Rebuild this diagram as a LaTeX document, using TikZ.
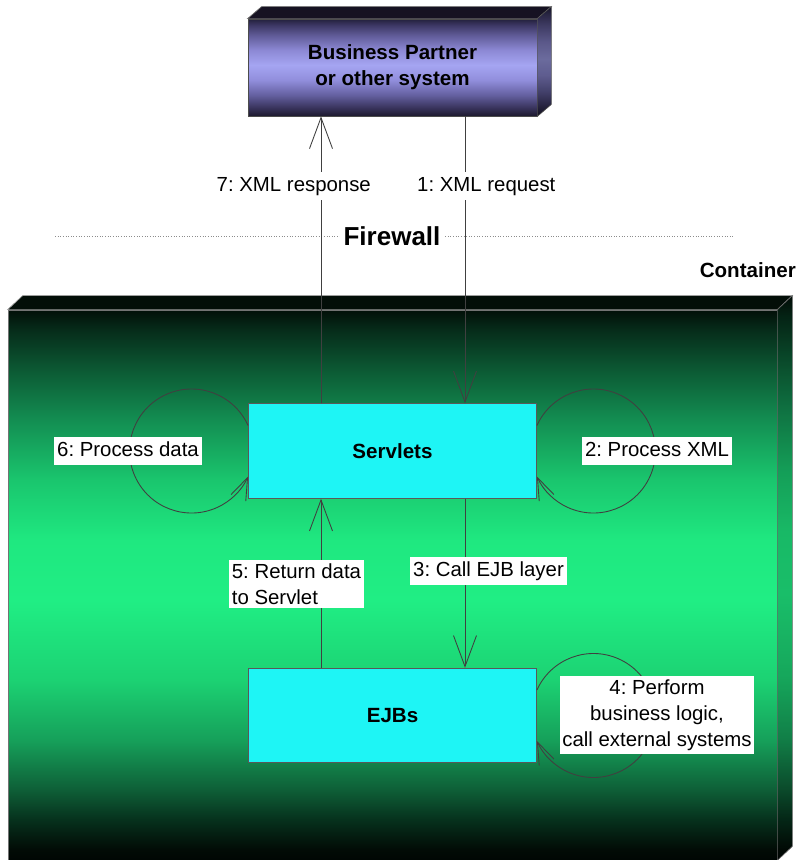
\documentclass[tikz,border=0pt]{standalone}
\usepackage{fontspec}
\setmainfont{Liberation Sans}
\usetikzlibrary{arrows.meta}
\frenchspacing

\definecolor{servletcyan}{RGB}{30,245,245}
\definecolor{ctrtop}{RGB}{3,14,8}
\definecolor{partnertop}{RGB}{22,18,34}

\definecolor{ctrA}{RGB}{0,6,3}
\definecolor{ctrB}{RGB}{2,12,6}
\definecolor{ctrC}{RGB}{6,48,28}
\definecolor{ctrD}{RGB}{14,95,55}
\definecolor{ctrE}{RGB}{22,160,90}
\definecolor{ctrF}{RGB}{28,210,115}
\definecolor{ctrG}{RGB}{32,238,132}
\definecolor{ctrH}{RGB}{31,232,128}
\definecolor{ctrI}{RGB}{26,198,110}
\definecolor{ctrJ}{RGB}{19,142,82}
\definecolor{ctrK}{RGB}{12,90,52}
\definecolor{ctrL}{RGB}{6,44,26}
\definecolor{ctrM}{RGB}{2,15,8}

\definecolor{ptA}{RGB}{28,25,45}
\definecolor{ptB}{RGB}{55,50,90}
\definecolor{ptC}{RGB}{100,96,160}
\definecolor{ptD}{RGB}{145,142,220}
\definecolor{ptE}{RGB}{165,165,242}
\definecolor{ptF}{RGB}{140,136,212}
\definecolor{ptG}{RGB}{95,90,150}
\definecolor{ptH}{RGB}{60,55,100}
\definecolor{ptI}{RGB}{35,32,60}

\pgfdeclareverticalshading{containershade}{100bp}{%
  color(0bp)=(ctrA); color(25bp)=(ctrA); color(26bp)=(ctrB);
  color(28.6bp)=(ctrC); color(31.4bp)=(ctrD); color(35.9bp)=(ctrE);
  color(41.4bp)=(ctrF); color(48.6bp)=(ctrG); color(54.1bp)=(ctrH);
  color(59.5bp)=(ctrI); color(65bp)=(ctrJ); color(69.5bp)=(ctrK);
  color(73.2bp)=(ctrL); color(75bp)=(ctrM); color(100bp)=(ctrM)}

\pgfdeclareverticalshading{partnershade}{100bp}{%
  color(0bp)=(ptA); color(25bp)=(ptA); color(29.1bp)=(ptB);
  color(35.8bp)=(ptC); color(43.6bp)=(ptD); color(51.3bp)=(ptE);
  color(59bp)=(ptF); color(66.8bp)=(ptG); color(71.9bp)=(ptH);
  color(75bp)=(ptI); color(100bp)=(ptI)}

\begin{document}
\begin{tikzpicture}[
  boldtext/.style={font=\bfseries\fontsize{11.7pt}{14.6pt}\selectfont},
  procbox/.style={boldtext, draw=black!65, line width=0.5pt, fill=servletcyan,
    minimum width=5.76cm, minimum height=1.89cm, inner sep=0pt},
  steplabel/.style={fill=white, inner xsep=1.6pt, inner ysep=1.9pt,
    font=\fontsize{11.6pt}{14.8pt}\selectfont},
  oneline/.style={text height=9.1pt, text depth=2.6pt},
  flow/.style={draw=black!75, line width=0.5pt, -{Straight Barb[length=0.62cm,width=0.46cm]}},
  loopflow/.style={flow, -{Straight Barb[length=0.44cm,width=0.32cm]}},
  fwline/.style={draw=black!45, line width=0.5pt, densely dotted}
]
  \useasboundingbox (0,0) rectangle (16.08,17.2);

  \node[shade, shading=containershade, draw=black!55, line width=0.4pt,
        minimum width=15.38cm, minimum height=11.0cm, inner sep=0pt] (container) at (7.85,5.5) {};
  \fill[draw=black!40, line width=0.4pt, fill=ctrtop] (container.north west) -- ++(0.30,0.28)
    -- ([shift={(0.30,0.28)}]container.north east) -- (container.north east) -- cycle;
  \path[shade, shading=containershade, postaction={fill=black, fill opacity=0.2},
        draw=black!55, line width=0.4pt] (container.north east) -- ++(0.30,0.28)
    -- ([shift={(0.30,0.28)}]container.south east) -- (container.south east) -- cycle;
  \node[boldtext, anchor=east] (ctrlabel) at (16.04,11.8) {Container};

  \node[boldtext, shade, shading=partnershade, draw=black!70, line width=0.4pt, align=center,
        minimum width=5.78cm, minimum height=1.94cm, inner sep=0pt] (partner) at (7.85,15.85)
        {Business Partner\\or other system};
  \fill[draw=black!60, line width=0.4pt, fill=partnertop] (partner.north west) -- ++(0.28,0.24)
    -- ([shift={(0.28,0.24)}]partner.north east) -- (partner.north east) -- cycle;
  \path[shade, shading=partnershade, postaction={fill=black, fill opacity=0.35},
        draw=black!60, line width=0.4pt] (partner.north east) -- ++(0.28,0.24)
    -- ([shift={(0.28,0.24)}]partner.south east) -- (partner.south east) -- cycle;

  \coordinate (fwwest) at (1.10,12.48);
  \coordinate (fweast) at (14.70,12.48);
  \draw[fwline] (fwwest) -- (fweast);
  \node[fill=white, inner sep=2pt, font=\bfseries\fontsize{14.8pt}{17pt}\selectfont] (firewall)
    at (7.84,12.48) {Firewall};

  \node[procbox] (servlets) at (7.85,8.18) {Servlets};
  \node[procbox] (ejbs) at (7.85,2.89) {EJBs};

  \foreach \src/\dst/\dx in {partner.south/servlets.north/1.45, servlets.north/partner.south/-1.43,
                             servlets.south/ejbs.north/1.45, ejbs.north/servlets.south/-1.43} {
    \draw[flow] ([xshift=\dx cm]\src) -- ([xshift=\dx cm]\dst);
  }

  \draw[loopflow] ([yshift=0.51cm]servlets.west) arc[start angle=24.3, end angle=335.7, radius=1.24cm];
  \draw[loopflow] ([yshift=0.51cm]servlets.east) arc[start angle=155.7, end angle=-155.7, radius=1.24cm];
  \draw[loopflow] ([yshift=0.51cm]ejbs.east) arc[start angle=155.7, end angle=-155.7, radius=1.24cm];

  \node[steplabel, oneline, anchor=east] (lbresp) at (7.48,13.48) {7: XML response};
  \node[steplabel, oneline, anchor=west] (lbreq) at (8.28,13.48) {1: XML request};
  \node[steplabel, oneline] (lbdata) at (2.56,8.18) {6: Process data};
  \node[steplabel, oneline] (lbxml) at (13.14,8.18) {2: Process XML};
  \node[steplabel, align=left] (lbreturn) at (5.93,5.52) {5: Return data\\to Servlet};
  \node[steplabel, oneline] (lbcall) at (9.77,5.78) {3: Call EJB layer};
  \node[steplabel, align=center] (lbperform) at (13.14,2.90) {4: Perform\\business logic,\\call external systems};
\end{tikzpicture}
\end{document}
